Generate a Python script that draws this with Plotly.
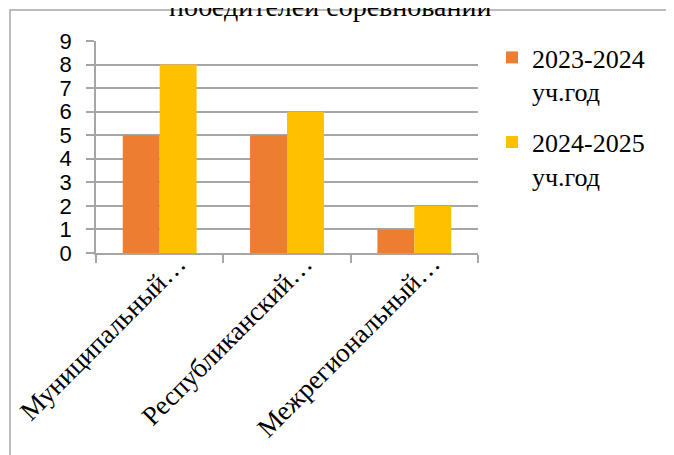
import plotly.graph_objects as go

categories = ["Муниципальный…", "Республиканский…", "Межрегиональный…"]
series_names = ["2023-2024<br>уч.год", "2024-2025<br>уч.год"]
values_2023 = [5, 5, 1]
values_2024 = [8, 6, 2]
colors = ["#ED7D31", "#FFC000"]
title_text = "победителей соревнований"

OFF = 8  # page body margin
W, H = 674 - OFF, 455 - OFF
L = 96 - OFF
T = 41 - OFF
R = W - (478 - OFF)
B = H - (253 - OFF)
pw, ph = W - L - R, H - T - B

def px_x(x):
    # x given in page (reference) pixels
    return (x - OFF - L) / pw

def px_y(y):
    return 1 - (y - OFF - T) / ph

fig = go.Figure()
for name, vals, col in zip(series_names, [values_2023, values_2024], colors):
    fig.add_trace(go.Bar(x=categories, y=vals, name=name, legendgroup=name,
                         marker=dict(color=col, line=dict(width=0))))

grid = "#a6a6a6"
serif = "Times New Roman, Liberation Serif, serif"

annotations = [dict(text=title_text, xref="paper", yref="paper", x=px_x(330), y=px_y(24),
                    xanchor="center", yanchor="bottom", showarrow=False,
                    font=dict(family=serif, size=28, color="black"))]
for cat in categories:
    annotations.append(dict(text=cat, xref="x", yref="paper", x=cat, y=px_y(246),
                            xanchor="right", yanchor="top", xshift=34, showarrow=False,
                            textangle=-45,
                            font=dict(family=serif, size=27, color="black")))

fig.update_layout(
    width=W, height=H,
    margin=dict(l=L, r=R, t=T, b=B, autoexpand=False),
    paper_bgcolor="white", plot_bgcolor="white",
    font=dict(family=serif, color="black"),
    barmode="group", bargap=0.42, bargroupgap=0,
    showlegend=True,
    legend=dict(x=px_x(492), y=px_y(34), xanchor="left", yanchor="top",
                font=dict(family=serif, size=26, color="black"),
                tracegroupgap=14, itemwidth=30, valign="top", bgcolor="rgba(0,0,0,0)"),
    xaxis=dict(range=[-0.5, len(categories) - 0.5], autorange=False,
               showline=True, linecolor=grid, linewidth=1.5, ticks="outside", ticklen=8,
               tickcolor=grid, tickwidth=1.5, tickson="boundaries",
               showticklabels=False, automargin=False, showgrid=False),
    yaxis=dict(range=[0, 9], autorange=False, dtick=1, showline=True, linecolor=grid, linewidth=1.5,
               ticks="outside", ticklen=8, tickcolor=grid, tickwidth=1.5,
               showgrid=True, gridcolor=grid, gridwidth=1.5, zeroline=False,
               tickfont=dict(family="Liberation Sans", size=22, color="black"),
               ticklabelstandoff=10, automargin=False),
    shapes=[dict(type="rect", xref="paper", yref="paper",
                 x0=px_x(10), x1=px_x(720), y0=px_y(520), y1=px_y(10),
                 line=dict(color=grid, width=1.5), layer="below")],
    annotations=annotations,
)

fig.write_html("out.html")
